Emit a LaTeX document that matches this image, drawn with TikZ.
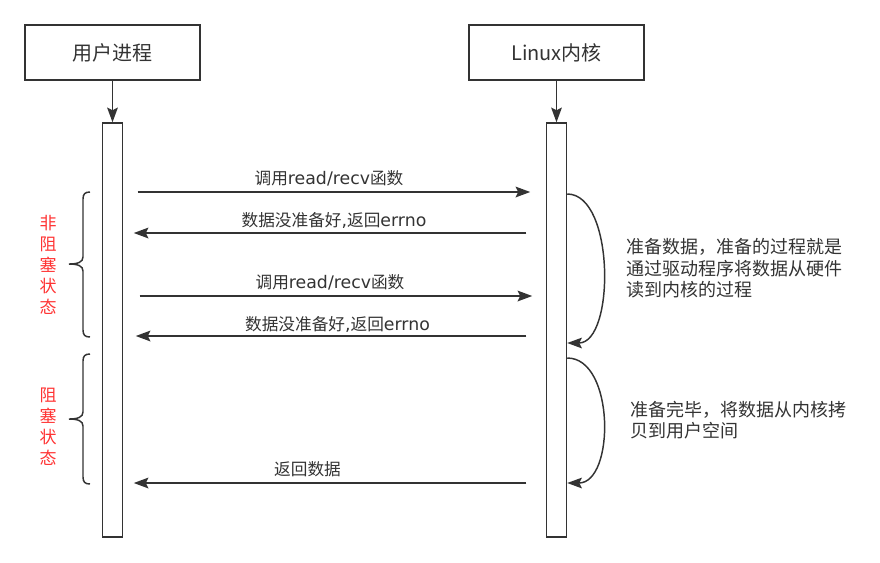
\documentclass[tikz,border=0pt]{standalone}
\usepackage{fontspec}
\setmainfont{Noto Sans CJK SC}
\newfontfamily\latinface{DejaVu Sans}
\newcommand{\latn}[1]{{\latinface\fontsize{13}{14}\selectfont #1}}
\usetikzlibrary{arrows.meta,calc}
\definecolor{ink}{HTML}{333333}
\definecolor{redtxt}{HTML}{FF3333}
\begin{document}
\begin{tikzpicture}[x=0.75pt,y=-0.75pt,
  actor/.style={draw=ink,line width=1.5pt,minimum width=131.25pt,minimum height=41.25pt,inner sep=0pt,font=\fontsize{15}{18}\selectfont,text=ink},
  life/.style={draw=ink,line width=1.1pt,minimum width=15pt,minimum height=310.5pt,inner sep=0pt},
  tipstyle/.style={-{Stealth[length=11pt,width=8pt,inset=2pt]}},
  msg/.style={draw=ink,line width=1.5pt,tipstyle},
  feed/.style={draw=ink,line width=1.2pt,tipstyle},
  loopy/.style={draw=ink,line width=1.1pt,tipstyle},
  bracestyle/.style={draw=ink,line width=1.1pt},
  lbl/.style={font=\fontsize{12.5}{14}\selectfont,text=ink,inner sep=0pt},
  note/.style={font=\fontsize{13.5}{16.1}\selectfont,text=ink,inner sep=0pt,align=left,anchor=west},
  state/.style={font=\fontsize{12.75}{15.75}\selectfont,text=redtxt,inner sep=0pt,align=center}
]
\useasboundingbox (0,0) rectangle (880,562);

% actors
\node[actor] (B1) at (112.5,52.5) {用户进程};
\node[actor] (B2) at (556.5,52.5) {Linux内核};

% lifelines
\node[life] (L1) at (112.5,330) {};
\node[life] (L2) at (556.5,330) {};

\draw[feed] (B1.south) -- (L1.north);
\draw[feed] (B2.south) -- (L2.north);

% messages
\draw[msg] ($(L1.east |- 0,192)+(14.5,0)$) -- ($(L2.west |- 0,192)+(-15.5,0)$);
\node[lbl] (m1) at (329,178) {调用\latn{read/recv}函数};

\draw[msg] ($(L2.west |- 0,233)+(-19.5,0)$) -- ($(L1.east |- 0,233)+(10.5,0)$);
\node[lbl] (m2) at (334,220) {数据没准备好\latn{,}返回\latn{errno}};

\draw[msg] ($(L1.east |- 0,296)+(16.5,0)$) -- ($(L2.west |- 0,296)+(-13.5,0)$);
\node[lbl] (m3) at (330,282) {调用\latn{read/recv}函数};

\draw[msg] ($(L2.west |- 0,336)+(-19.5,0)$) -- ($(L1.east |- 0,336)+(12.5,0)$);
\node[lbl] (m4) at (337.5,324) {数据没准备好\latn{,}返回\latn{errno}};

\draw[msg] ($(L2.west |- 0,483)+(-19.5,0)$) -- ($(L1.east |- 0,483)+(10.5,0)$);
\node[lbl] (m5) at (307.5,469) {返回数据};

% self loops on kernel
\draw[loopy] (L2.east |- 0,194) .. controls (615,194) and (615,343) .. (L2.east |- 0,343);
\draw[loopy] (L2.east |- 0,358) .. controls (615,358) and (615,483) .. (L2.east |- 0,483);

\node[note] (n1) at (626,268.5) {准备数据，准备的过程就是\\通过驱动程序将数据从硬件\\读到内核的过程};
\node[note] (n2) at (630,420) {准备完毕，将数据从内核拷\\贝到用户空间};

% braces
\draw[bracestyle] (90,192) .. controls (85,192) and (83,194) .. (83,199) -- (83,257)
  .. controls (83,262) and (78,264) .. (69,264)
  .. controls (78,264) and (83,266) .. (83,271) -- (83,330)
  .. controls (83,335) and (85,337) .. (90,337);
\draw[bracestyle] (90,354) .. controls (85,354) and (83,356) .. (83,361) -- (83,412)
  .. controls (83,417) and (78,419) .. (69,419)
  .. controls (78,419) and (83,421) .. (83,426) -- (83,477)
  .. controls (83,482) and (85,484) .. (90,484);

\node[state] (s1) at (48,265) {非\\阻\\塞\\状\\态};
\node[state] (s2) at (48,426.5) {阻\\塞\\状\\态};
\end{tikzpicture}
\end{document}
